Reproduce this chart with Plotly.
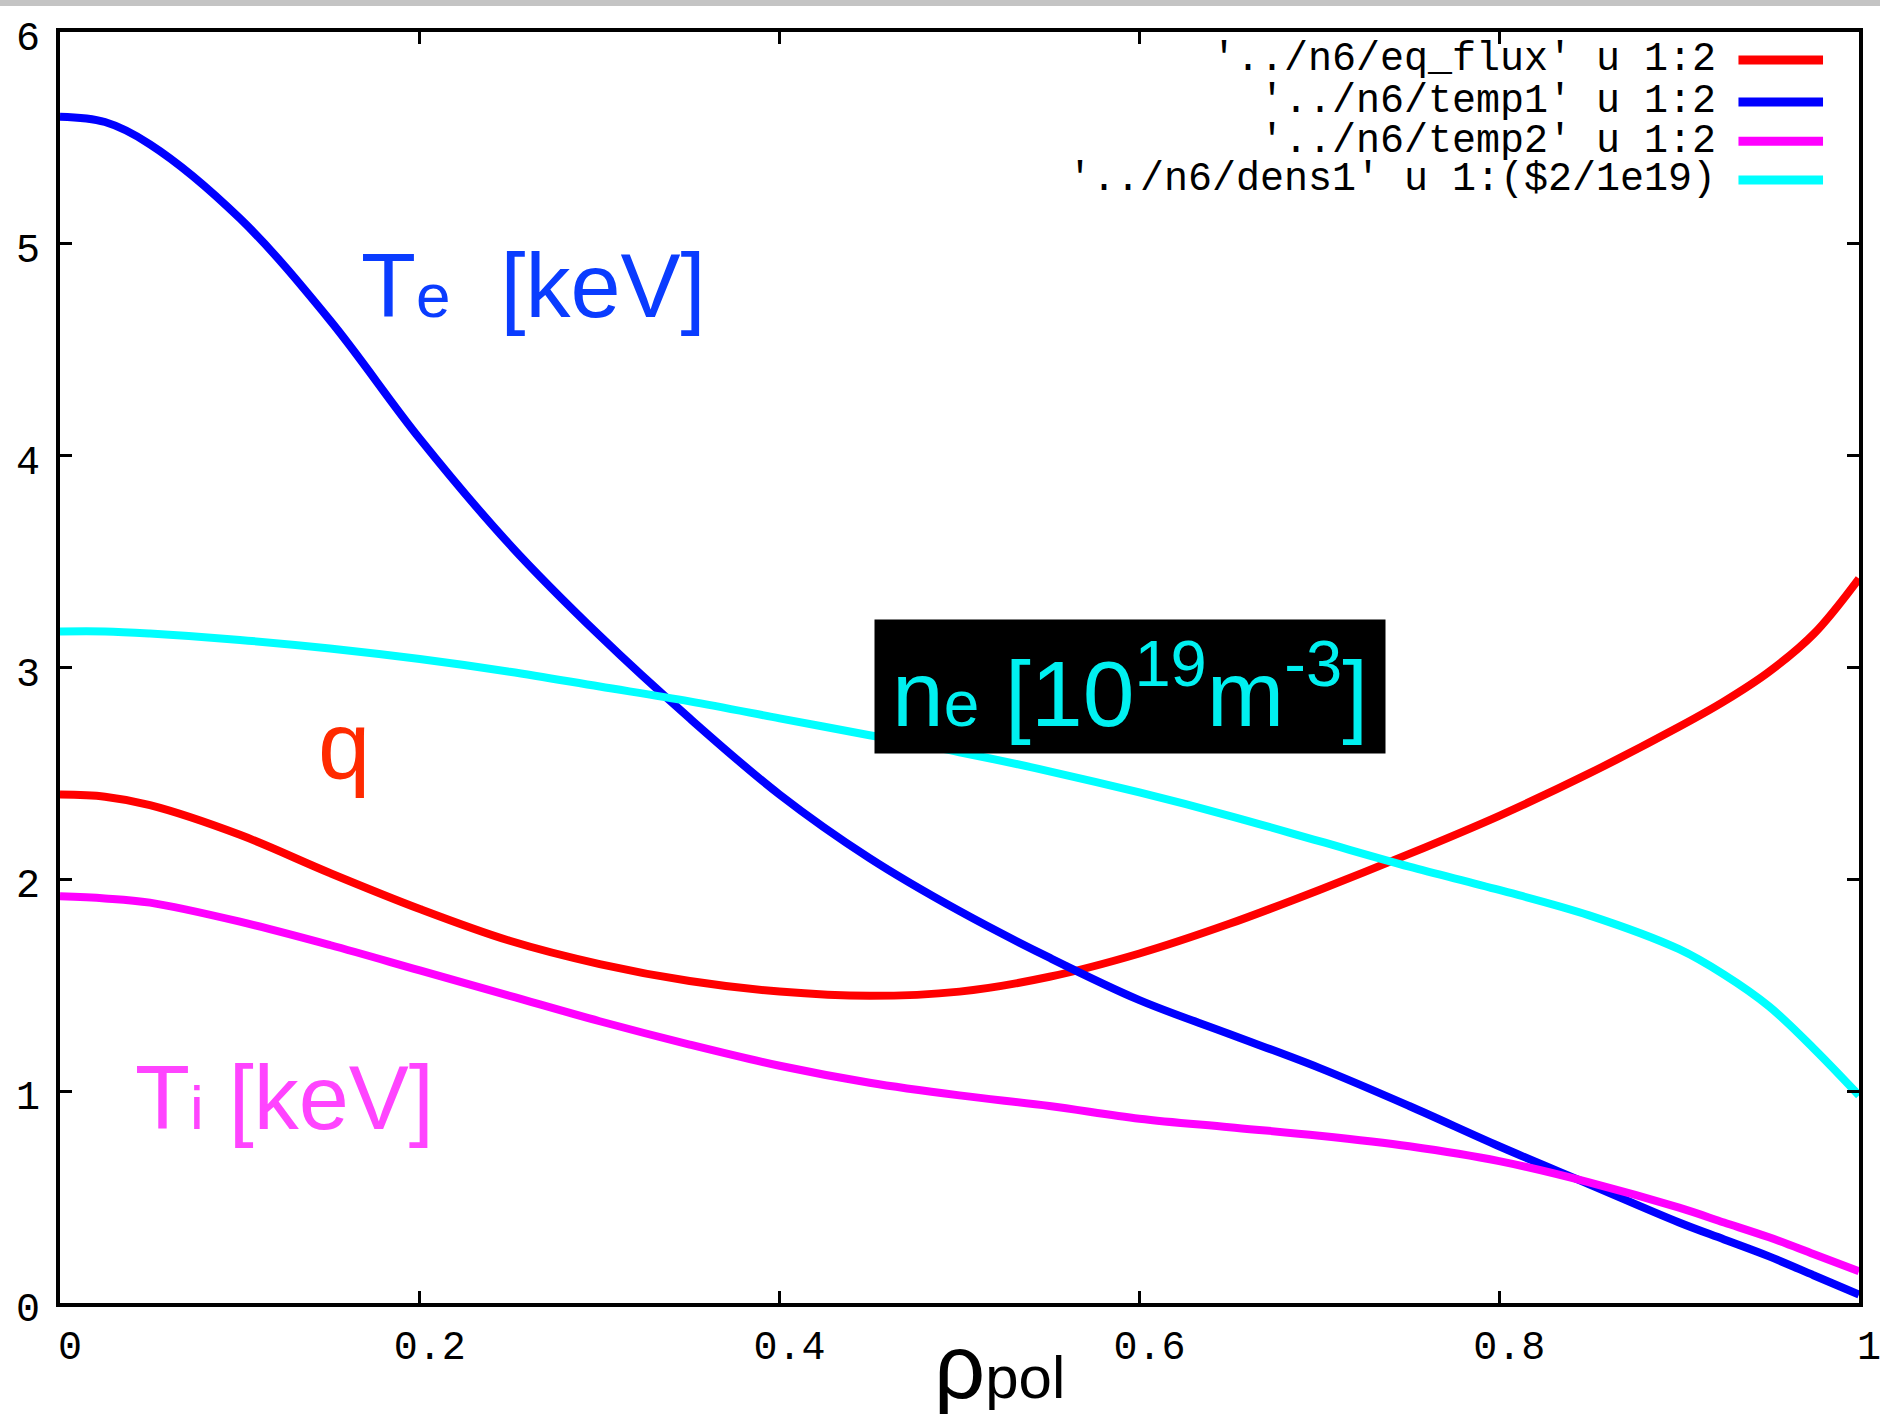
import plotly.graph_objects as go

# Radial grid (normalised poloidal flux radius); denser near axis and edge
rho = [0.0, 0.025, 0.05, 0.10, 0.15, 0.20, 0.25, 0.30, 0.35, 0.40, 0.45, 0.50,
       0.55, 0.60, 0.65, 0.70, 0.75, 0.80, 0.85, 0.90, 0.925, 0.95, 0.975, 1.0]

# Safety factor q
q_prof = [2.40, 2.39, 2.35, 2.21, 2.03, 1.86, 1.71, 1.60, 1.52, 1.47, 1.45, 1.47,
          1.54, 1.65, 1.79, 1.95, 2.12, 2.30, 2.50, 2.72, 2.84, 2.98, 3.16, 3.42]
# Electron temperature [keV]
te_prof = [5.60, 5.575, 5.47, 5.12, 4.64, 4.08, 3.58, 3.15, 2.76, 2.40, 2.10, 1.85,
           1.63, 1.43, 1.27, 1.11, 0.93, 0.74, 0.56, 0.38, 0.30, 0.22, 0.13, 0.04]
# Ion temperature [keV]
ti_prof = [1.92, 1.91, 1.89, 1.80, 1.69, 1.57, 1.45, 1.33, 1.22, 1.12, 1.04, 0.98,
           0.93, 0.87, 0.83, 0.79, 0.74, 0.67, 0.57, 0.45, 0.38, 0.31, 0.23, 0.15]
# Electron density [1e19 m^-3]
ne_prof = [3.17, 3.17, 3.16, 3.13, 3.09, 3.04, 2.98, 2.91, 2.84, 2.76, 2.68, 2.60,
           2.51, 2.41, 2.30, 2.18, 2.06, 1.95, 1.83, 1.67, 1.55, 1.40, 1.20, 0.98]

series_keys = ["'../n6/eq_flux' u 1:2", "'../n6/temp1' u 1:2",
               "'../n6/temp2' u 1:2", "'../n6/dens1' u 1:($2/1e19)"]
series_vals = [q_prof, te_prof, ti_prof, ne_prof]
series_colors = ["#ff0000", "#0000ff", "#ff00ff", "#00ffff"]

x_ticks = [0, 0.2, 0.4, 0.6, 0.8, 1.0]
x_ticktext = ["0", "0.2", "0.4", "0.6", "0.8", "1"]
y_ticks = [0, 1, 2, 3, 4, 5, 6]
y_ticktext = ["0", "1", "2", "3", "4", "5", "6"]

TICK_FONT = dict(family="Liberation Mono", size=40, color="black")
LABEL_FONT = "Liberation Sans"

fig = go.Figure()
for vals, col, key in zip(series_vals, series_colors, series_keys):
    fig.add_trace(go.Scatter(x=rho, y=vals, mode="lines", name=key,
                             line=dict(color=col, width=8, shape="spline", smoothing=1.0),
                             showlegend=False, hoverinfo="skip"))

# gnuplot-style key: right-aligned text with a line sample on its right
key_y = [0.978, 0.945, 0.914, 0.8836]
annotations = []
shapes = []
for key, col, ky in zip(series_keys, series_colors, key_y):
    annotations.append(dict(xref="paper", yref="paper", x=0.9216, y=ky,
                            xanchor="right", yanchor="middle", text=key,
                            showarrow=False, font=TICK_FONT))
    shapes.append(dict(type="line", xref="paper", yref="paper",
                       x0=0.933, x1=0.980, y0=ky, y1=ky,
                       line=dict(color=col, width=9)))

# curve labels
annotations += [
    dict(x=0.263, y=4.8, xref="x", yref="y", showarrow=False,
         text='T<span style="font-size:62px">e</span>  [keV]',
         font=dict(family=LABEL_FONT, size=90, color="#0a3cff")),
    dict(x=0.158, y=2.63, xref="x", yref="y", showarrow=False, text="q",
         font=dict(family=LABEL_FONT, size=94, color="#ff2a00")),
    dict(x=0.125, y=0.97, xref="x", yref="y", showarrow=False,
         text='T<span style="font-size:62px">i</span> [keV]',
         font=dict(family=LABEL_FONT, size=90, color="#ff44ff")),
    dict(x=0.595, y=2.91, xref="x", yref="y", showarrow=False,
         text="n<span style=\"font-size:64px\">e</span> [10<sup>19</sup>m<sup>-3</sup>]",
         bgcolor="black", width=510, height=133, borderpad=0,
         font=dict(family=LABEL_FONT, size=93, color="#00f0f0")),
    dict(x=0.522, y=-0.05, xref="paper", yref="paper", showarrow=False,
         xanchor="center", yanchor="middle",
         text='ρ<span style="font-size:60px">pol</span>',
         font=dict(family=LABEL_FONT, size=90, color="black")),
]

# window strip along the top edge
shapes.append(dict(type="rect", xref="paper", yref="paper", x0=-0.04, x1=1.02,
                   y0=1.0205, y1=1.03, fillcolor="#c4c4c4", line=dict(width=0),
                   layer="below"))

axis_common = dict(showline=True, linecolor="black", linewidth=4, mirror="ticks",
                   ticks="inside", ticklen=12, tickwidth=3, tickcolor="black",
                   showgrid=False, zeroline=False, tickfont=TICK_FONT,
                   automargin=False, ticklabeloverflow="allow")

fig.update_layout(
    width=1880, height=1414,
    margin=dict(l=60, r=21, t=32, b=111),
    paper_bgcolor="white", plot_bgcolor="white",
    xaxis=dict(range=[0, 1], tickvals=x_ticks, ticktext=x_ticktext,
               ticklabelstandoff=4, ticklabelshift=10, **axis_common),
    yaxis=dict(range=[0, 6], tickvals=y_ticks, ticktext=y_ticktext,
               ticklabelstandoff=8, ticklabelshift=4, **axis_common),
    annotations=annotations, shapes=shapes,
)

fig.write_html("out.html")
